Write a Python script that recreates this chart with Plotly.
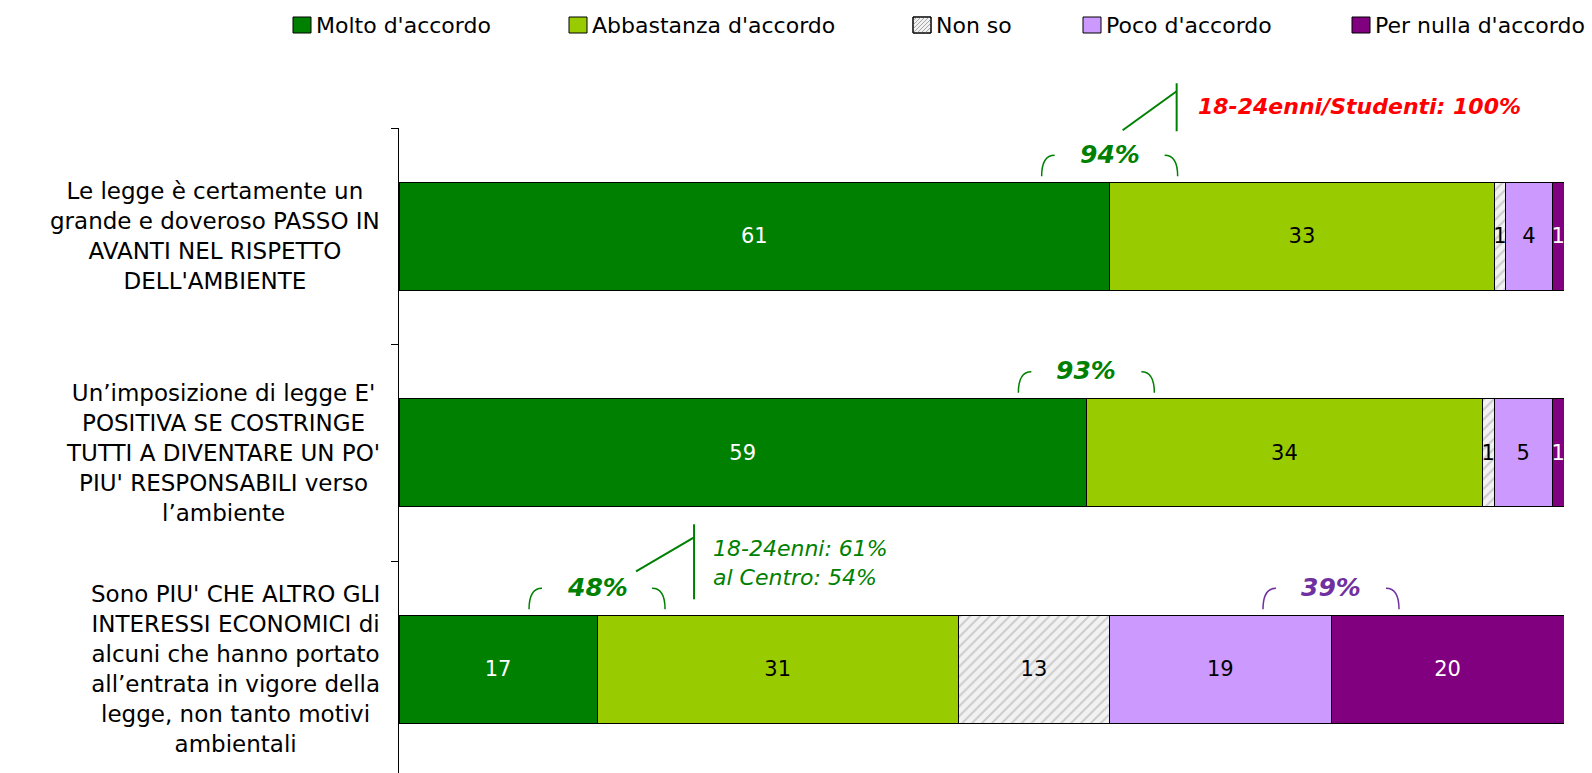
import plotly.graph_objects as go

# ---------------- data ----------------
categories = [
    "Le legge è certamente un<br>grande e doveroso PASSO IN<br>AVANTI NEL RISPETTO<br>DELL'AMBIENTE",
    "Un’imposizione di legge E'<br>POSITIVA SE COSTRINGE<br>TUTTI A DIVENTARE UN PO'<br>PIU' RESPONSABILI verso<br>l’ambiente",
    "Sono PIU' CHE ALTRO GLI<br>INTERESSI ECONOMICI di<br>alcuni che hanno portato<br>all’entrata in vigore della<br>legge, non tanto motivi<br>ambientali",
]
series_names = ["Molto d'accordo", "Abbastanza d'accordo", "Non so", "Poco d'accordo", "Per nulla d'accordo"]
molto = [61, 59, 17]
abbastanza = [33, 34, 31]
non_so = [1, 1, 13]
poco = [4, 5, 19]
per_nulla = [1, 1, 20]

callout_texts = ["18-24enni/Studenti: 100%", None, "18-24enni: 61%<br>al Centro: 54%"]

# ---------------- layout constants ----------------
W, H = 1592, 773
ML, MR, MT, MB = 399, 28, 128, 0
PW, PH = W - ML - MR, H - MT - MB
X_MAX = 100.0
Y_TOP, Y_BOT = -0.5, 2.479
XS = PW / X_MAX
YS = PH / (Y_BOT - Y_TOP)

FONT = "DejaVu Sans, Verdana, sans-serif"
colors = ["#008000", "#99CC00", "#F2F2F2", "#CC99FF", "#800080"]
text_colors = ["white", "black", "black", "black", "white"]
GREEN = "#008000"
PURPLE = "#7030A0"
RED = "#FF0000"


def px_x(px):
    return (px - ML) / PW


def px_y(py):
    return 1 - (py - MT) / PH


def dx(xd):
    """data x -> paper x"""
    return xd / X_MAX


def dy(yd):
    """data y (reversed axis) -> paper y"""
    return (Y_BOT - yd) / (Y_BOT - Y_TOP)


series = [molto, abbastanza, non_so, poco, per_nulla]
ypos = list(range(len(categories)))

fig = go.Figure()
for k, (name, vals) in enumerate(zip(series_names, series)):
    marker = dict(color=colors[k], line=dict(color="black", width=1))
    if name == "Non so":
        marker["pattern"] = dict(shape="/", fgcolor="#A6A6A6", bgcolor="#F2F2F2",
                                 size=7, solidity=0.3)
    fig.add_trace(go.Bar(
        name=name, y=ypos, x=vals, orientation="h", width=0.5,
        marker=marker, text=[str(v) for v in vals], textposition="inside",
        insidetextanchor="middle", constraintext="none", textangle=0,
        textfont=dict(family=FONT, size=21, color=text_colors[k]),
        showlegend=False, hoverinfo="x+name",
    ))

annotations = []
shapes = []

# category labels
for i, cat in enumerate(categories):
    annotations.append(dict(
        x=0, xref="paper", xanchor="right", xshift=-17,
        y=i, yref="y", yanchor="middle", text=cat, showarrow=False,
        align="center", font=dict(family=FONT, size=23, color="black")))

# bracket totals
groups = []
for i in range(len(categories)):
    groups.append((i, molto[i], molto[i] + abbastanza[i], GREEN))
groups.append((2, X_MAX - per_nulla[2], poco[2] + per_nulla[2], PURPLE))

for i, xb, tot, col in groups:
    x_out_l = dx(xb - 68 / XS)
    x_in_l = dx(xb - 55 / XS)
    x_out_r = dx(xb + 68 / XS)
    x_in_r = dx(xb + 55 / XS)
    y_t = dy(i - 81 / YS)
    y_b = dy(i - 60 / YS)
    shapes.append(dict(type="path", xref="paper", yref="paper",
                       path=f"M {x_in_l},{y_t} Q {x_out_l},{y_t} {x_out_l},{y_b}",
                       line=dict(color=col, width=1.5)))
    shapes.append(dict(type="path", xref="paper", yref="paper",
                       path=f"M {x_in_r},{y_t} Q {x_out_r},{y_t} {x_out_r},{y_b}",
                       line=dict(color=col, width=1.5)))
    annotations.append(dict(x=dx(xb), y=dy(i - 82 / YS), xref="paper", yref="paper",
                            text=f"<b><i>{tot}%</i></b>", showarrow=False,
                            xanchor="center", yanchor="middle",
                            font=dict(family=FONT, size=25, color=col)))

# callouts (pixel offsets relative to agree boundary / bar centre)
callout_geom = {
    0: dict(d0=(13, -106), d1=(67, -145), v=(67, -153, -105), t=(86, -130),
            col=RED, bold=True, size=22),
    2: dict(d0=(39, -98), d1=(97, -132), v=(97, -145, -70), t=(114, -106),
            col=GREEN, bold=False, size=22),
}
for i, g in callout_geom.items():
    xb = molto[i]
    shapes.append(dict(type="line", xref="paper", yref="paper",
                       x0=dx(xb + g["d0"][0] / XS), y0=dy(i + g["d0"][1] / YS),
                       x1=dx(xb + g["d1"][0] / XS), y1=dy(i + g["d1"][1] / YS),
                       line=dict(color=GREEN, width=2)))
    shapes.append(dict(type="line", xref="paper", yref="paper",
                       x0=dx(xb + g["v"][0] / XS), y0=dy(i + g["v"][1] / YS),
                       x1=dx(xb + g["v"][0] / XS), y1=dy(i + g["v"][2] / YS),
                       line=dict(color=GREEN, width=2)))
    txt = callout_texts[i]
    txt = f"<b><i>{txt}</i></b>" if g["bold"] else f"<i>{txt}</i>"
    annotations.append(dict(x=dx(xb + g["t"][0] / XS), y=dy(i + g["t"][1] / YS),
                            xref="paper", yref="paper", text=txt, showarrow=False,
                            xanchor="left", yanchor="middle", align="left",
                            font=dict(family=FONT, size=g["size"], color=g["col"])))

# manual legend
legend_left_px = [293, 569, 913, 1083, 1352]
SQ_W, SQ_H, SQ_TOP = 18, 16, 17
for k, name in enumerate(series_names):
    lx = legend_left_px[k]
    shapes.append(dict(type="rect", xref="paper", yref="paper",
                       x0=px_x(lx), x1=px_x(lx + SQ_W),
                       y0=px_y(SQ_TOP + SQ_H), y1=px_y(SQ_TOP),
                       fillcolor=colors[k], line=dict(color="black", width=1)))
    if name == "Non so":
        for c in range(-12, 17, 4):
            xa = max(0, -c)
            xb_ = min(SQ_W, SQ_H - c)
            if xb_ <= xa:
                continue
            shapes.append(dict(type="line", xref="paper", yref="paper",
                               x0=px_x(lx + xa), y0=px_y(SQ_TOP + SQ_H - (xa + c)),
                               x1=px_x(lx + xb_), y1=px_y(SQ_TOP + SQ_H - (xb_ + c)),
                               line=dict(color="#A6A6A6", width=1)))
        shapes.append(dict(type="rect", xref="paper", yref="paper",
                           x0=px_x(lx), x1=px_x(lx + SQ_W),
                           y0=px_y(SQ_TOP + SQ_H), y1=px_y(SQ_TOP),
                           line=dict(color="black", width=1)))
    annotations.append(dict(x=px_x(lx + SQ_W + 3), y=px_y(SQ_TOP + SQ_H / 2),
                            xref="paper", yref="paper", text=name, showarrow=False,
                            xanchor="left", yanchor="middle",
                            font=dict(family=FONT, size=22, color="black")))

fig.update_layout(
    width=W, height=H, barmode="stack",
    margin=dict(l=ML, r=MR, t=MT, b=MB, pad=0),
    paper_bgcolor="white", plot_bgcolor="white",
    xaxis=dict(visible=False, range=[0, X_MAX], fixedrange=True),
    yaxis=dict(range=[Y_BOT, Y_TOP], tickmode="array",
               tickvals=[-0.5, 0.5, 1.5, 2.5], ticktext=["", "", "", ""],
               ticks="outside", ticklen=7, tickcolor="black", tickwidth=1,
               showline=True, linecolor="black", linewidth=1,
               showgrid=False, zeroline=False, fixedrange=True),
    annotations=annotations, shapes=shapes, showlegend=False,
    font=dict(family=FONT),
)

fig.write_html("out.html", include_plotlyjs=True,
               config={"displayModeBar": False},
               post_script="document.body.style.margin='0';document.body.style.overflow='hidden';")
